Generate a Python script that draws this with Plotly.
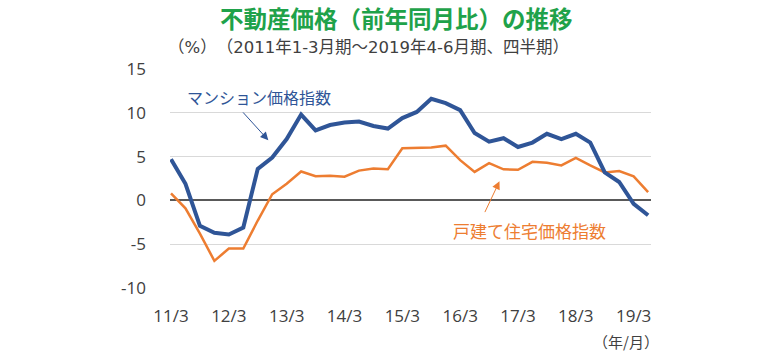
import plotly.graph_objects as go

quarters = list(range(34))
tick_pos = [0, 4, 8, 12, 16, 20, 24, 28, 32]
tick_text = ["11/3", "12/3", "13/3", "14/3", "15/3", "16/3", "17/3", "18/3", "19/3"]
y_ticks = [-10, -5, 0, 5, 10, 15]
y_tick_text = ["-10", "-5", "0", "5", "10", "15"]

mansion = [4.7, 1.9, -2.9, -3.7, -3.9, -3.1, 3.6, 4.9, 7.0, 9.8, 8.0, 8.6, 8.9, 9.0, 8.5, 8.2,
           9.4, 10.1, 11.6, 11.1, 10.3, 7.7, 6.7, 7.1, 6.1, 6.6, 7.6, 7.0, 7.6, 6.6, 3.2, 2.1, -0.4, -1.7]
house = [0.8, -0.9, -3.8, -6.9, -5.5, -5.5, -2.3, 0.7, 1.9, 3.3, 2.75, 2.8, 2.7, 3.4, 3.65, 3.55,
         5.95, 6.0, 6.05, 6.25, 4.6, 3.25, 4.25, 3.55, 3.5, 4.4, 4.3, 4.0, 4.85, 4.0, 3.2, 3.35, 2.75, 0.95]

BLUE = "#2f5597"
ORANGE = "#ed7d31"
FONT = "Noto Sans CJK JP"
NUMFONT = "Open Sans"

fig = go.Figure()
fig.add_trace(go.Scatter(x=quarters, y=house, mode="lines",
                         line=dict(color=ORANGE, width=2.5), name="戸建て住宅価格指数"))
fig.add_trace(go.Scatter(x=quarters, y=mansion, mode="lines",
                         line=dict(color=BLUE, width=4), name="マンション価格指数"))

fig.update_layout(
    width=780, height=358,
    margin=dict(l=170, r=129, t=69, b=70),
    paper_bgcolor="white", plot_bgcolor="white",
    showlegend=False,
    font=dict(family=FONT, color="#404040"),
    title=dict(text="<b>不動産価格（前年同月比）の推移</b>",
               x=0.508, xanchor="center", xref="container",
               y=0.944, yanchor="middle", yref="container",
               font=dict(size=23.5, color="#1fa24a", family=FONT)),
    xaxis=dict(range=[-0.07, 33.2], tickmode="array", tickvals=tick_pos, ticktext=tick_text,
               showgrid=False, zeroline=False, showline=False, ticks="",
               ticklabelstandoff=16,
               tickfont=dict(size=17, color="#404040", family=NUMFONT)),
    yaxis=dict(range=[-10, 15], tickmode="array", tickvals=y_ticks, ticktext=y_tick_text,
               showgrid=True, gridcolor="#d9d9d9", gridwidth=1,
               zeroline=True, zerolinecolor="#595959", zerolinewidth=2,
               showline=False, ticks="", ticklabelstandoff=23,
               tickfont=dict(size=17, color="#404040", family=NUMFONT)),
)

annotations = [
    dict(text="（%）　（2011年1-3月期～2019年4-6月期、四半期）", xref="paper", yref="paper",
         x=-0.008, y=1.096, xanchor="left", yanchor="middle", showarrow=False,
         font=dict(size=16.5, color="#404040", family="DejaVu Sans, " + FONT)),
    dict(text="（年/月）", xref="paper", yref="paper", x=0.948, y=-0.245,
         xanchor="center", yanchor="middle", showarrow=False,
         font=dict(size=15, color="#404040", family=FONT)),
    dict(text="マンション価格指数", xref="paper", yref="paper", x=0.184, y=0.872,
         xanchor="center", yanchor="middle", showarrow=False,
         font=dict(size=16, color=BLUE, family=FONT)),
    dict(text="戸建て住宅価格指数", xref="paper", yref="paper", x=0.748, y=0.262,
         xanchor="center", yanchor="middle", showarrow=False,
         font=dict(size=17, color=ORANGE, family=FONT)),
    dict(text="", x=6.73, y=6.87, xref="x", yref="y", ax=-26.6, ay=-29.3,
         showarrow=True, arrowhead=2, arrowsize=1.6, arrowwidth=1, arrowcolor=BLUE),
    dict(text="", x=22.72, y=2.18, xref="x", yref="y", ax=-15.3, ay=32.3,
         showarrow=True, arrowhead=2, arrowsize=1.6, arrowwidth=1, arrowcolor=ORANGE),
]
fig.update_layout(annotations=annotations)

fig.write_html("out.html", config={"displayModeBar": False},
               post_script="document.body.style.margin='0';document.body.style.padding='0';")
